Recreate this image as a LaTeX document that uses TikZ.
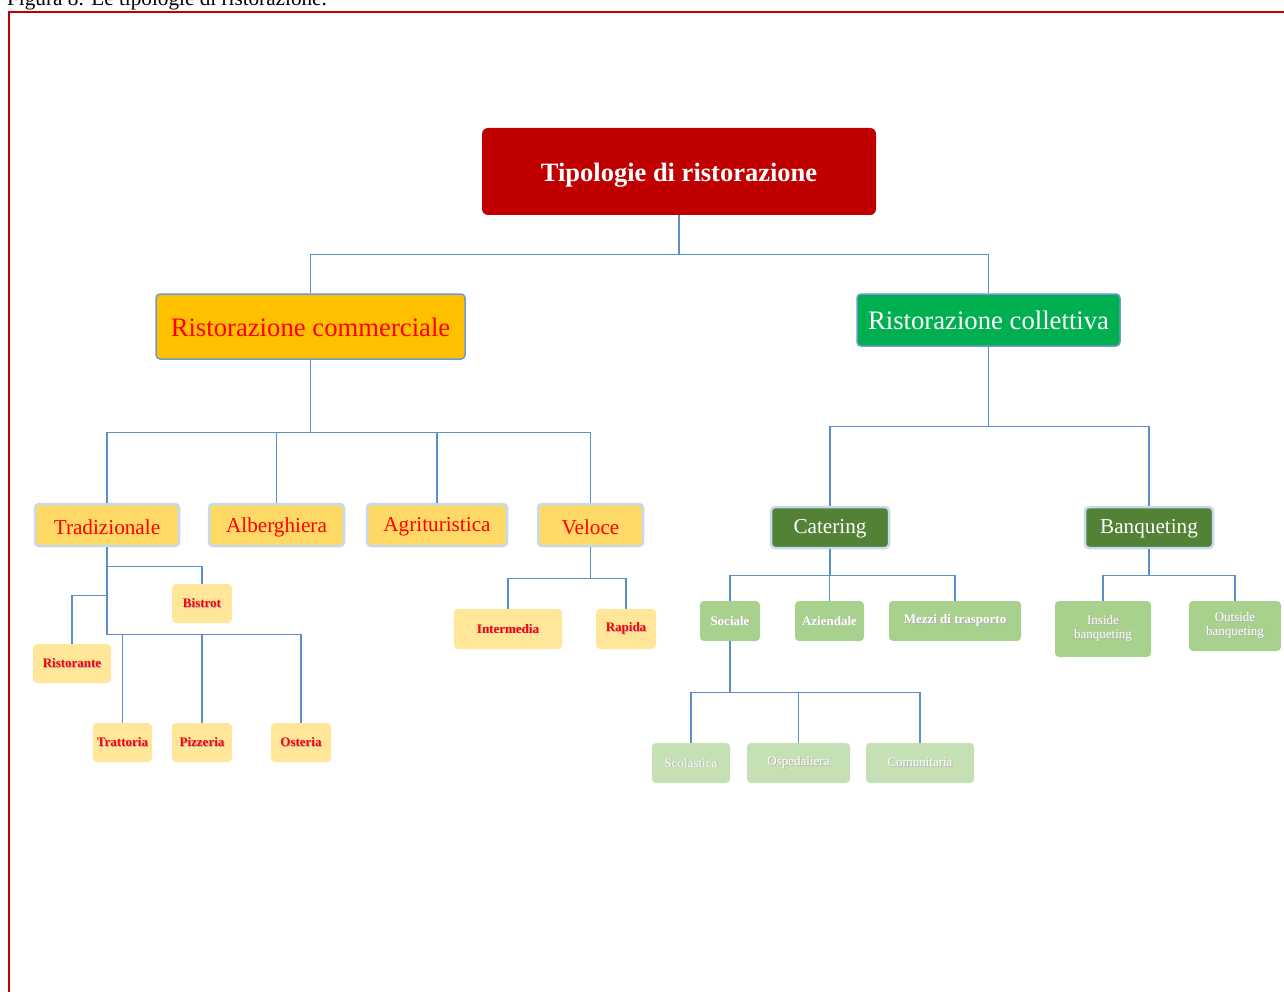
\documentclass[tikz,border=0pt]{standalone}
\usepackage{fontspec}
\setmainfont{Liberation Serif}
\definecolor{titlered}{HTML}{C00000}
\definecolor{framered}{HTML}{C00000}
\definecolor{orangec}{HTML}{FFC000}
\definecolor{greenc}{HTML}{00B050}
\definecolor{yellowc}{HTML}{FFD966}
\definecolor{lbord}{HTML}{C5D9F0}
\definecolor{bbord}{HTML}{6A9BD0}
\definecolor{dkgreen}{HTML}{538135}
\definecolor{smyellow}{HTML}{FFE699}
\definecolor{smgreen}{HTML}{A9D18E}
\definecolor{palegreen}{HTML}{C5E0B4}
\definecolor{connc}{HTML}{5A8FCA}
\definecolor{txtred}{HTML}{FF0000}
\newcommand{\shtext}[1]{\makebox[0pt][l]{\raisebox{-0.9pt}{\hspace{0.9pt}\textcolor{black!30}{#1}}}#1}
\newcommand{\lowr}[2]{\raisebox{-#1}[\height][\depth]{#2}}
\tikzset{
  conn/.style={draw=connc, line width=1.2pt},
  basebox/.style={rectangle, rounded corners=4pt, inner sep=0pt, align=center},
  toptitle/.style={basebox, fill=titlered, text=white, font=\fontsize{26.5}{30}\selectfont\bfseries, rounded corners=6pt},
  lvltwo/.style={basebox, draw=bbord, line width=1.5pt, font=\fontsize{26.7}{30}\selectfont},
  lvlthree/.style={basebox, draw=lbord, line width=2.5pt, font=\fontsize{21.2}{24}\selectfont},
  smy/.style={basebox, fill=smyellow, text=txtred, font=\fontsize{13}{15}\selectfont\bfseries},
  smg/.style={basebox, fill=smgreen, text=white, font=\fontsize{13}{15}\selectfont\bfseries},
  smgn/.style={basebox, fill=smgreen, text=white, font=\fontsize{13}{15}\selectfont},
  smp/.style={basebox, fill=palegreen, text=white, font=\fontsize{13}{15}\selectfont},
}
\begin{document}
\begin{tikzpicture}[x=1pt, y=-1pt]
\useasboundingbox (0,0) rectangle (1284,992);
\begin{scope}
\clip (0,0) rectangle (1284,992);
\node[anchor=base west, inner sep=0pt, font=\fontsize{21.2}{24}\selectfont] (caption) at (7,5.5) {Figura 8: Le tipologie di ristorazione.};
\end{scope}
\draw[draw=framered, line width=1.5pt] (9,995) -- (9,12) -- (1290,12);

% level 1
\node[toptitle, minimum width=394pt, minimum height=87pt] (top) at (679,171.5) {\lowr{4pt}{Tipologie di ristorazione}};
% level 2
\node[lvltwo, fill=orangec, text=txtred, minimum width=309pt, minimum height=65pt] (rc) at (310.5,326.5) {\lowr{1pt}{Ristorazione commerciale}};
\node[lvltwo, fill=greenc, text=white, minimum width=263pt, minimum height=52pt] (col) at (988.5,320) {Ristorazione collettiva};
% level 3
\node[lvlthree, fill=yellowc, text=txtred, minimum width=144pt, minimum height=42pt] (trad) at (107,525) {\lowr{2pt}{Tradizionale}};
\node[lvlthree, fill=yellowc, text=txtred, minimum width=135pt, minimum height=42pt] (alb) at (276.5,525) {\lowr{2pt}{Alberghiera}};
\node[lvlthree, fill=yellowc, text=txtred, minimum width=140pt, minimum height=42pt] (agri) at (437,525) {\lowr{2pt}{Agrituristica}};
\node[lvlthree, fill=yellowc, text=txtred, minimum width=105pt, minimum height=42pt] (vel) at (590.5,525) {\lowr{2pt}{Veloce}};
\node[lvlthree, fill=dkgreen, text=white, minimum width=118pt, minimum height=41pt] (cat) at (830,527.5) {\lowr{1.5pt}{Catering}};
\node[lvlthree, fill=dkgreen, text=white, minimum width=128pt, minimum height=41pt] (ban) at (1149,527.5) {\lowr{1.5pt}{Banqueting}};
% small yellow
\node[smy, minimum width=60pt, minimum height=39pt] (bis) at (202,603.5) {\shtext{Bistrot}};
\node[smy, minimum width=78pt, minimum height=39pt] (ris) at (72,663.5) {\shtext{Ristorante}};
\node[smy, minimum width=59pt, minimum height=39pt] (tra) at (122.5,742.5) {\shtext{Trattoria}};
\node[smy, minimum width=60pt, minimum height=39pt] (piz) at (202,742.5) {\shtext{Pizzeria}};
\node[smy, minimum width=60pt, minimum height=39pt] (ost) at (301,742.5) {\shtext{Osteria}};
\node[smy, minimum width=108pt, minimum height=40pt] (int) at (508,629) {\shtext{Intermedia}};
\node[smy, minimum width=60pt, minimum height=40pt] (rap) at (626,629) {\shtext{Rapida}};
% small green
\node[smg, minimum width=60pt, minimum height=40pt] (soc) at (730,621) {\shtext{Sociale}};
\node[smg, minimum width=69pt, minimum height=40pt] (azi) at (829.5,621) {\shtext{Aziendale}};
\node[smg, minimum width=132pt, minimum height=40pt] (mez) at (955,621) {\shtext{Mezzi di trasporto}};
\node[smp, minimum width=78pt, minimum height=40pt] (sco) at (691,763) {\shtext{Scolastica}};
\node[smp, minimum width=103pt, minimum height=40pt] (osp) at (798.5,763) {\shtext{Ospedaliera}};
\node[smp, minimum width=108pt, minimum height=40pt] (com) at (920,763) {\shtext{Comunitaria}};
\node[smgn, minimum width=96pt, minimum height=56pt] (ins) at (1103,629) {\shtext{Inside}\\[-1pt]\shtext{banqueting}};
\node[smgn, minimum width=92pt, minimum height=50pt] (out) at (1235,626) {\shtext{Outside}\\[-1pt]\shtext{banqueting}};

% connectors
\draw[conn] (top.south) -- ++(0,39) -| (rc.north);
\draw[conn] (top.south) -- ++(0,39) -| (col.north);
\foreach \n in {trad,alb,agri,vel} \draw[conn] (rc.south) -- ++(0,73) -| (\n.north);
\foreach \n in {cat,ban} \draw[conn] (col.south) -- ++(0,80) -| (\n.north);
\draw[conn] (trad.south) -- ++(0,19) -| (bis.north);
\draw[conn] (trad.south) -- ++(0,48) -| (ris.north);
\foreach \n in {tra,piz,ost} \draw[conn] (trad.south) -- ++(0,87) -| (\n.north);
\foreach \n in {int,rap} \draw[conn] (vel.south) -- ++(0,31) -| (\n.north);
\foreach \n in {soc,azi,mez} \draw[conn] (cat.south) -- ++(0,26) -| (\n.north);
\foreach \n in {ins,out} \draw[conn] (ban.south) -- ++(0,26) -| (\n.north);
\foreach \n in {sco,osp,com} \draw[conn] (soc.south) -- ++(0,51) -| (\n.north);
\end{tikzpicture}
\end{document}
